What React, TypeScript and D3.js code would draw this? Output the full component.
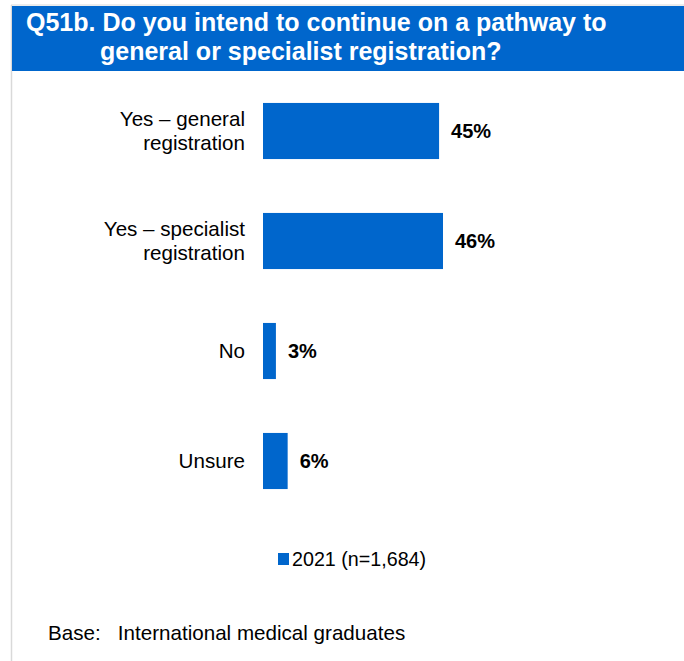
import React from "react";
import * as d3 from "d3";

const categories: string[][] = [
  ["Yes – general", "registration"],
  ["Yes – specialist", "registration"],
  ["No"],
  ["Unsure"],
];
const values: number[] = [45, 46, 3.3, 6.3];
const valueLabels: string[] = ["45%", "46%", "3%", "6%"];
const titleLines: string[] = [
  "Q51b. Do you intend to continue on a pathway to",
  "general or specialist registration?",
];
const legendLabel = "2021 (n=1,684)";
const baseNote = "Base:   International medical graduates";

const W = 684;
const H = 661;
const BLUE = "#0066CC";
const FONT = "Arial, 'Liberation Sans', Helvetica, sans-serif";

export default function App() {
  const keys = categories.map((_, i) => String(i));
  const y = d3.scaleBand<string>().domain(keys).range([76, 516]).paddingInner(0.49).paddingOuter(0.245);
  const x = d3.scaleLinear().domain([0, 46]).range([263, 443]);

  return (
    <svg
      width={W}
      height={H}
      style={{ position: "absolute", left: 0, top: 0, display: "block" }}
      fontFamily={FONT}
    >
      <rect x={0} y={0} width={W} height={H} fill="#ffffff" />
      <line x1={11.5} y1={5} x2={11.5} y2={H} stroke="#d9d9d9" strokeWidth={1.5} />
      <line x1={11} y1={5} x2={W} y2={5} stroke="#d9d9d9" strokeWidth={1} />
      <rect x={12} y={6} width={W - 12} height={65} fill={BLUE} />
      <text x={26} y={31} fill="#fff" fontWeight="bold" fontSize={25}>
        {titleLines[0]}
      </text>
      <text x={100} y={60} fill="#fff" fontWeight="bold" fontSize={25}>
        {titleLines[1]}
      </text>

      {values.map((v, i) => {
        const by = y(String(i))!;
        const bh = y.bandwidth();
        const cy = by + bh / 2;
        const lines = categories[i];
        const lh = 23.5;
        const firstBaseline = cy + 7 - ((lines.length - 1) * lh) / 2;
        return (
          <g key={i}>
            <rect x={x(0)} y={by} width={x(v) - x(0)} height={bh} fill={BLUE} />
            <text x={245} textAnchor="end" fontSize={20.6} fill="#000">
              {lines.map((l, j) => (
                <tspan key={j} x={245} y={firstBaseline + j * lh}>
                  {l}
                </tspan>
              ))}
            </text>
            <text x={x(v) + 12} y={cy + 7} fontSize={20} fontWeight="bold" fill="#000">
              {valueLabels[i]}
            </text>
          </g>
        );
      })}

      <rect x={278} y={553} width={11} height={12} fill={BLUE} />
      <text x={292} y={566} fontSize={19.7} fill="#000">
        {legendLabel}
      </text>

      <text x={48} y={640} fontSize={20.6} fill="#000" xmlSpace="preserve" style={{ whiteSpace: "pre" }}>
        {baseNote}
      </text>
    </svg>
  );
}
